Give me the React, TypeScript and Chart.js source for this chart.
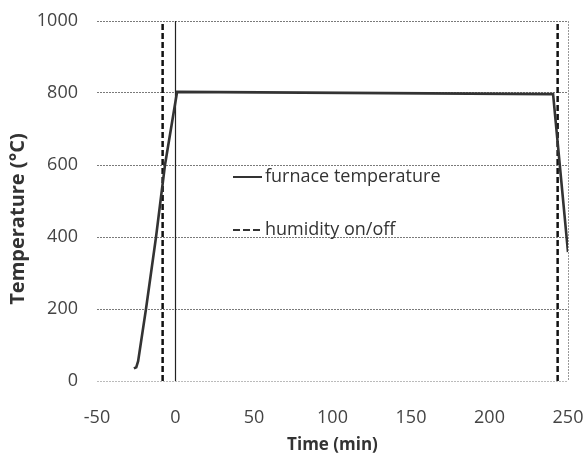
import React, { useEffect, useRef } from "react";
import { Chart, registerables } from "chart.js";

Chart.register(...registerables);

// Furnace temperature profile (time in min, temperature in °C)
const furnaceTime = [-26.5, -25, -23.8, -18.8, -12.4, -6.7, 1, 240.5, 250];
const furnaceTemp = [35, 38, 55, 200, 400, 600, 803, 797, 358];

// Humidity on/off switching times (min)
const humidityOn = -8.2;
const humidityOff = 243.4;

// Axis ticks
const xTicks = [-50, 0, 50, 100, 150, 200, 250];
const yTicks = [0, 200, 400, 600, 800, 1000];

const legendLabels = ["furnace temperature", "humidity on/off"];
const yTitle = "Temperature (°C)";
const xTitle = "Time (min)";

const FONT = "'Open Sans', 'DejaVu Sans', sans-serif";

export default function App() {
  const ref = useRef<HTMLCanvasElement | null>(null);

  useEffect(() => {
    if (!ref.current) return;
    const yMax = yTicks[yTicks.length - 1];
    const yMin = yTicks[0];

    const legendPlugin = {
      id: "inlineLegend",
      afterDatasetsDraw(chart: any) {
        const ctx = chart.ctx;
        ctx.save();
        const rows = [
          { y: 177, dash: [] as number[] },
          { y: 230, dash: [7, 3] },
        ];
        rows.forEach((r, i) => {
          ctx.beginPath();
          ctx.setLineDash(r.dash);
          ctx.strokeStyle = "#333";
          ctx.lineWidth = 2;
          ctx.moveTo(233, r.y);
          ctx.lineTo(262, r.y);
          ctx.stroke();
          ctx.setLineDash([]);
          ctx.fillStyle = "#333";
          ctx.font = `18px ${FONT}`;
          ctx.textAlign = "left";
          ctx.textBaseline = "middle";
          ctx.fillText(legendLabels[i], 265, r.y);
        });
        // y-axis title (rotated), placed slightly below the plot centre as in the source
        ctx.translate(18, 219);
        ctx.rotate(-Math.PI / 2);
        ctx.font = `bold 20px ${FONT}`;
        ctx.textAlign = "center";
        ctx.textBaseline = "middle";
        ctx.fillStyle = "#333";
        ctx.fillText(yTitle, 0, 0);
        ctx.restore();
      },
    };

    const chart = new Chart(ref.current, {
      type: "line",
      data: {
        datasets: [
          {
            label: legendLabels[0],
            data: furnaceTime.map((t, i) => ({ x: t, y: furnaceTemp[i] })),
            borderColor: "#333",
            borderWidth: 2.6,
            pointRadius: 0,
            tension: 0,
            order: 0,
          },
          {
            label: legendLabels[1],
            data: [
              { x: humidityOn, y: yMin },
              { x: humidityOn, y: yMax },
            ],
            borderColor: "#111",
            borderWidth: 2.5,
            borderDash: [6, 3],
            pointRadius: 0,
            order: 1,
          },
          {
            label: "off",
            data: [
              { x: humidityOff, y: yMin },
              { x: humidityOff, y: yMax },
            ],
            borderColor: "#111",
            borderWidth: 2.5,
            borderDash: [6, 3],
            pointRadius: 0,
            order: 1,
          },
          {
            label: "zero",
            data: [
              { x: 0, y: yMin },
              { x: 0, y: yMax },
            ],
            borderColor: "#222",
            borderWidth: 1.2,
            pointRadius: 0,
            order: 2,
          },
        ],
      },
      options: {
        responsive: false,
        animation: false,
        layout: { autoPadding: false, padding: { top: 21, right: 18, left: 0, bottom: 0 } },
        plugins: {
          legend: { display: false },
          tooltip: { enabled: false },
        },
        scales: {
          x: {
            type: "linear",
            min: xTicks[0],
            max: xTicks[xTicks.length - 1],
            afterBuildTicks: (scale: any) => {
              scale.ticks = xTicks.map((v) => ({ value: v }));
            },
            afterFit: (scale: any) => {
              scale.height = 72;
            },
            ticks: {
              font: { family: FONT, size: 18 },
              color: "#444",
              padding: 0,
              maxRotation: 0,
              callback: (v: any) => String(v),
            },
            grid: {
              drawTicks: true,
              tickLength: 26,
              tickColor: "rgba(0,0,0,0)",
              color: (c: any) =>
                c.tick && c.tick.value === xTicks[xTicks.length - 1] ? "#999" : "rgba(0,0,0,0)",
            },
            border: { display: false, dash: [2, 1] },
            title: {
              display: true,
              text: xTitle,
              font: { family: FONT, size: 17, weight: "bold" },
              color: "#333",
              padding: { top: 0, bottom: -2 },
            },
          },
          y: {
            type: "linear",
            min: yMin,
            max: yMax,
            afterBuildTicks: (scale: any) => {
              scale.ticks = yTicks.map((v) => ({ value: v }));
            },
            afterFit: (scale: any) => {
              scale.width = 97;
            },
            ticks: {
              font: { family: FONT, size: 18 },
              color: "#444",
              padding: 0,
              callback: (v: any) => String(v),
            },
            grid: {
              drawTicks: true,
              tickLength: 19,
              tickColor: "rgba(0,0,0,0)",
              color: (c: any) => (c.tick && c.tick.value === 0 ? "#bbb" : "#7a7a7a"),
            },
            border: { display: false, dash: [2, 1] },
            title: { display: false },
          },
        },
      },
      plugins: [legendPlugin],
    });
    return () => chart.destroy();
  }, []);

  return (
    <div style={{ position: "fixed", left: 0, top: 0, width: 586, height: 453, background: "#fff" }}>
      <canvas ref={ref} width={586} height={453} />
    </div>
  );
}
